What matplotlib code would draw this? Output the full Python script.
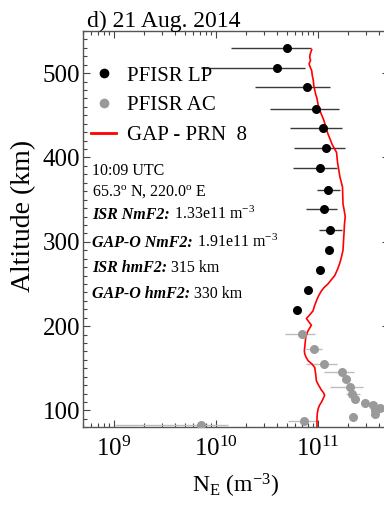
import matplotlib
matplotlib.use('Agg')
import matplotlib.pyplot as plt
from matplotlib.lines import Line2D
from matplotlib.ticker import MultipleLocator, LogLocator, NullFormatter
import numpy as np

plt.rcParams['font.family'] = ['Liberation Serif', 'DejaVu Serif']
plt.rcParams['mathtext.fontset'] = 'custom'
plt.rcParams['mathtext.rm'] = 'Liberation Serif'
plt.rcParams['mathtext.it'] = 'Liberation Serif:italic'
plt.rcParams['mathtext.bf'] = 'Liberation Serif:bold'

# ---------------- data ----------------
# PFISR long pulse: altitude (km), Ne (m^-3), error-bar low / high bounds
lp_alt = [530, 506, 483, 458, 435, 411, 387, 362, 339, 314, 290, 266, 243, 219]
lp_ne  = [4.97e10, 4.03e10, 7.80e10, 9.62e10, 1.13e11, 1.21e11, 1.05e11,
          1.27e11, 1.15e11, 1.32e11, 1.30e11, 1.05e11, 7.98e10, 6.32e10]
lp_lo  = [1.40e10, 7.24e9, 2.41e10, 3.44e10, 5.32e10, 5.82e10, 5.69e10,
          9.78e10, 7.75e10, 1.02e11, 1.22e11, 1.05e11, 7.98e10, 6.32e10]
lp_hi  = [8.53e10, 7.46e10, 1.31e11, 1.61e11, 1.72e11, 1.87e11, 1.54e11,
          1.64e11, 1.53e11, 1.75e11, 1.38e11, 1.05e11, 7.98e10, 6.32e10]

# PFISR alternating code
ac_alt = [191, 173, 155, 146, 137, 128, 120, 113, 109, 106, 103, 100, 96, 92, 87, 83]
ac_ne  = [6.97e10, 9.20e10, 1.15e11, 1.73e11, 1.91e11, 2.07e11, 2.19e11, 2.31e11,
          2.91e11, 3.48e11, 4.10e11, 3.62e11, 3.65e11, 2.22e11, 7.29e10, 7.24e9]
ac_lo  = [4.75e10, 7.63e10, 7.63e10, 1.16e11, 1.91e11, 1.31e11, 1.91e11, 2.31e11,
          2.91e11, 3.48e11, 4.10e11, 3.62e11, 3.65e11, 2.22e11, 5.08e10, 1.02e9]
ac_hi  = [9.35e10, 1.11e11, 1.53e11, 2.25e11, 1.91e11, 2.79e11, 2.58e11, 2.31e11,
          2.91e11, 3.48e11, 4.10e11, 3.62e11, 3.65e11, 2.22e11, 9.84e10, 1.31e10]

# GAP-O profile (PRN 8)
gap_alt = [528, 523, 519, 515, 511, 507, 503, 497, 491, 485, 480, 475, 470, 465,
           460, 452, 444, 436, 428, 422, 416, 411, 406, 399, 393, 385, 377, 371,
           365, 355, 345, 337, 330, 321, 310, 300, 290, 282, 274, 267, 260, 255,
           250, 246, 242, 236, 230, 224, 218, 213, 209, 205, 201, 194, 187, 181,
           175, 171, 167, 163, 159, 155, 151, 143, 135, 129, 124, 121, 118, 114,
           110, 106, 102, 96, 90, 85, 80]
gap_ne  = [8.73e10, 8.45e10, 8.35e10, 8.50e10, 8.22e10, 8.45e10, 8.73e10, 8.85e10,
           9.07e10, 9.15e10, 9.35e10, 9.55e10, 9.84e10, 1.00e11, 1.02e11, 1.08e11,
           1.15e11, 1.20e11, 1.26e11, 1.32e11, 1.38e11, 1.45e11, 1.53e11, 1.55e11,
           1.57e11, 1.61e11, 1.65e11, 1.70e11, 1.75e11, 1.76e11, 1.77e11, 1.82e11,
           1.86e11, 1.83e11, 1.81e11, 1.79e11, 1.77e11, 1.71e11, 1.64e11, 1.56e11,
           1.47e11, 1.36e11, 1.26e11, 1.16e11, 1.09e11, 1.02e11, 9.71e10, 9.30e10,
           8.99e10, 8.30e10, 7.75e10, 8.20e10, 8.67e10, 8.00e10, 7.63e10, 7.55e10,
           7.46e10, 7.40e10, 7.46e10, 7.70e10, 8.04e10, 8.80e10, 9.35e10, 9.55e10,
           9.71e10, 1.03e11, 1.09e11, 1.14e11, 1.17e11, 1.13e11, 1.09e11, 1.04e11,
           1.01e11, 9.90e10, 9.84e10, 9.84e10, 9.84e10]

y_major = [100, 200, 300, 400, 500]

# ---------------- figure ----------------
fig = plt.figure(figsize=(3.84, 5.12), dpi=100)
W, H = 384.0, 512.0
ax = fig.add_axes([83 / W, 1 - 427.3 / H, 306 / W, 396.3 / H])

lp_ne_a = np.array(lp_ne)
ac_ne_a = np.array(ac_ne)
ax.errorbar(lp_ne, lp_alt,
            xerr=[lp_ne_a - np.array(lp_lo), np.array(lp_hi) - lp_ne_a],
            fmt='none', ecolor='#3a3a3a', elinewidth=1.0, capsize=0, zorder=2)
ax.errorbar(ac_ne, ac_alt,
            xerr=[ac_ne_a - np.array(ac_lo), np.array(ac_hi) - ac_ne_a],
            fmt='none', ecolor='#bdbdbd', elinewidth=1.0, capsize=0, zorder=2)
ax.plot(gap_ne, gap_alt, color='red', lw=1.2, zorder=3)
ax.plot(lp_ne, lp_alt, 'o', color='black', ms=6.5, mec='none', zorder=4)
ax.plot(ac_ne, ac_alt, 'o', color='#9a9a9a', ms=6.5, mec='none', zorder=4)

ax.set_xscale('log')
ax.set_xlim(5e8, 5e11)
ax.set_ylim(80, 550)
ax.set_yticks(y_major)
ax.yaxis.set_minor_locator(MultipleLocator(10))
ax.xaxis.set_major_locator(LogLocator(base=10, numticks=10))
ax.xaxis.set_minor_locator(LogLocator(base=10, subs=np.arange(2, 10), numticks=20))
ax.xaxis.set_minor_formatter(NullFormatter())

ax.tick_params(which='both', direction='in', top=True, right=True, color='#444444', width=0.8)
ax.tick_params(which='major', length=5)
ax.tick_params(which='minor', length=2.8)
ax.tick_params(axis='x', which='major', labelsize=18, pad=7)
ax.tick_params(axis='y', which='major', labelsize=18, pad=2)
for s in ax.spines.values():
    s.set_color('#555555')
    s.set_linewidth(1.0)

# legend
handles = [Line2D([], [], marker='o', ls='none', color='black', ms=7, mec='none'),
           Line2D([], [], marker='o', ls='none', color='#9a9a9a', ms=7, mec='none'),
           Line2D([], [], color='red', lw=2)]
ax.legend(handles, ['PFISR LP', 'PFISR AC', 'GAP - PRN  8'], loc='upper left',
          bbox_to_anchor=(0.0, 0.9325), frameon=False, fontsize=15,
          handlelength=1.2, handletextpad=0.5, labelspacing=0.48, borderaxespad=0.0)

# title and axis labels
fig.text(87 / W, 1 - 27 / H, 'd) 21 Aug. 2014', fontsize=17, ha='left', va='baseline')
fig.text(24 / W, 1 - 216 / H, 'Altitude (km)', fontsize=20, rotation=90,
         ha='center', va='center')
fig.text(236 / W, 1 - 493 / H, r'N$_{\rm E}$ (m$^{-3}$)', fontsize=17,
         ha='center', va='baseline')

# annotations
fs = 11.5
x0 = 92 / W
fig.text(x0, 1 - 175 / H, '10:09 UTC', fontsize=fs, va='baseline')
fig.text(x0, 1 - 196 / H, r'65.3$^{\rm o}$ N, 220.0$^{\rm o}$ E', fontsize=fs, va='baseline')
rows = [(219.3, 'ISR NmF2:', r' 1.33e11 m$^{-3}$'),
        (246.7, 'GAP-O NmF2:', r' 1.91e11 m$^{-3}$'),
        (271.7, 'ISR hmF2:', ' 315 km'),
        (298.0, 'GAP-O hmF2:', ' 330 km')]
for yp, bold, rest in rows:
    t = fig.text(x0, 1 - yp / H, bold, fontsize=fs, fontweight='bold',
                 fontstyle='italic', va='baseline')
    ax.annotate(rest, xy=(1, 0), xycoords=t, fontsize=fs, va='bottom', ha='left',
                annotation_clip=False)

fig.savefig('out.png', dpi=100)
